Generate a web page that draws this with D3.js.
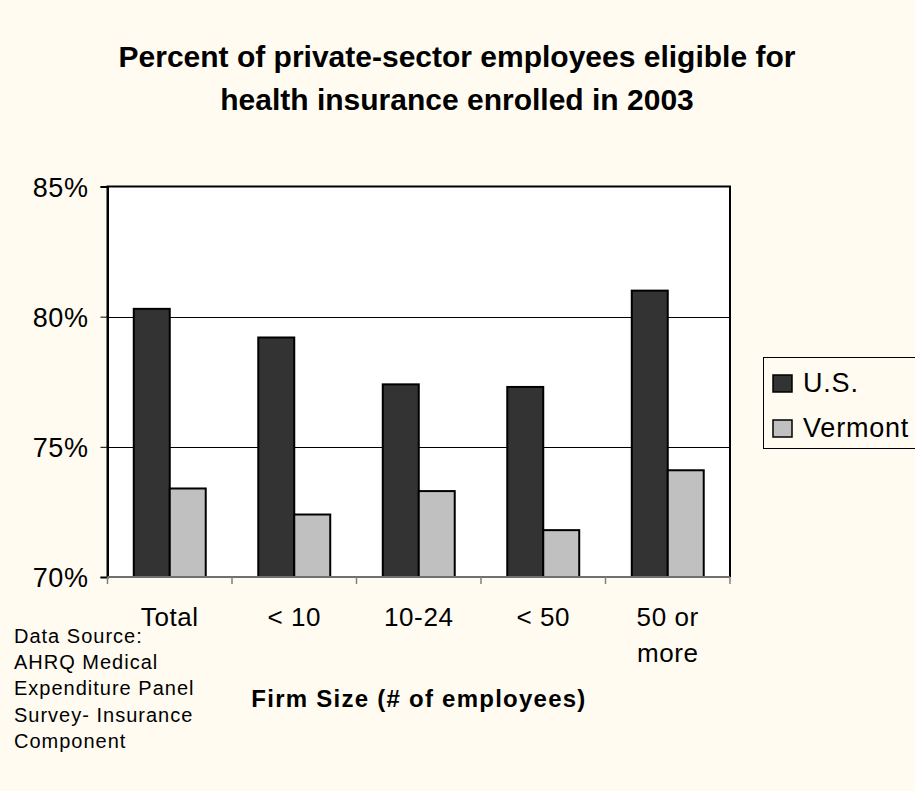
<!DOCTYPE html>
<html>
<head>
<meta charset="utf-8">
<script src="https://cdn.jsdelivr.net/npm/d3@7"></script>
<style>
  html, body { margin: 0; padding: 0; background: #fffbf0; }
  svg { display: block; font-family: "Liberation Sans", Arial, sans-serif; }
</style>
</head>
<body>
<svg id="chart"></svg>
<script>
// Data.
const categories = ['Total', '< 10', '10-24', '< 50', '50 or more'];
const categoryLines = [['Total'], ['< 10'], ['10-24'], ['< 50'], ['50 or', 'more']];
const seriesNames = ['U.S.', 'Vermont'];
const usValues = [80.3, 79.2, 77.4, 77.3, 81.0];
const vermontValues = [73.4, 72.4, 73.3, 71.8, 74.1];
const yTicks = [70, 75, 80, 85];
const titleLines = ['Percent of private-sector employees eligible for', 'health insurance enrolled in 2003'];
const sourceLines = ['Data Source:', 'AHRQ Medical', 'Expenditure Panel', 'Survey- Insurance', 'Component'];

const width = 915;
const height = 791;
const plot = { left: 107.5, right: 730, top: 186.5, bottom: 577 };
const colors = { 'U.S.': '#333333', 'Vermont': '#c0c0c0' };

const rows = categories.map((c, i) => ({
  category: c,
  values: [
    { series: 'U.S.', value: usValues[i] },
    { series: 'Vermont', value: vermontValues[i] },
  ],
}));

const svg = d3.select('#chart')
  .attr('width', width)
  .attr('height', height)
  .attr('viewBox', `0 0 ${width} ${height}`);

svg.append('rect')
  .attr('width', width)
  .attr('height', height)
  .attr('fill', '#fffbf0');

// Title
svg.append('g')
  .selectAll('text')
  .data(titleLines)
  .join('text')
  .attr('x', 457)
  .attr('y', (d, i) => 67 + i * 42.5)
  .attr('text-anchor', 'middle')
  .attr('font-size', 30)
  .attr('font-weight', 'bold')
  .attr('fill', '#000')
  .text((d) => d);

// Scales
const xScale = d3.scaleBand()
  .domain(categories)
  .range([plot.left, plot.right]);

const seriesScale = d3.scaleBand()
  .domain(seriesNames)
  .range([0, xScale.bandwidth()])
  .paddingOuter(0.73);

const yScale = d3.scaleLinear()
  .domain([70, 85])
  .range([plot.bottom, plot.top]);

// Plot area
svg.append('rect')
  .attr('x', plot.left)
  .attr('y', plot.top)
  .attr('width', plot.right - plot.left)
  .attr('height', plot.bottom - plot.top)
  .attr('fill', '#ffffff');

// Gridlines (inner ticks only)
svg.append('g')
  .selectAll('line')
  .data(yTicks.filter((t) => t > 70 && t < 85))
  .join('line')
  .attr('x1', plot.left)
  .attr('x2', plot.right)
  .attr('y1', (d) => Math.round(yScale(d)) + 0.5)
  .attr('y2', (d) => Math.round(yScale(d)) + 0.5)
  .attr('stroke', '#000')
  .attr('stroke-width', 1);

// Bars
svg.append('g')
  .selectAll('g')
  .data(rows)
  .join('g')
  .attr('transform', (d) => `translate(${xScale(d.category)},0)`)
  .selectAll('rect')
  .data((d) => d.values)
  .join('rect')
  .attr('x', (d) => seriesScale(d.series))
  .attr('y', (d) => yScale(d.value))
  .attr('width', seriesScale.bandwidth())
  .attr('height', (d) => yScale(70) - yScale(d.value))
  .attr('fill', (d) => colors[d.series])
  .attr('stroke', '#000')
  .attr('stroke-width', 2);

// Plot frame: top, right and left in black
svg.append('path')
  .attr('d', `M${plot.left},${plot.bottom} V${plot.top} H${plot.right} V${plot.bottom}`)
  .attr('fill', 'none')
  .attr('stroke', '#000')
  .attr('stroke-width', 2);

// Y axis
const yAxis = d3.axisLeft(yScale)
  .tickValues(yTicks)
  .tickSize(7)
  .tickPadding(12)
  .tickFormat((d) => `${d}%`);

const yAxisG = svg.append('g')
  .attr('transform', `translate(${plot.left},0)`)
  .call(yAxis);
yAxisG.select('.domain').attr('stroke', '#000').attr('stroke-width', 2);
yAxisG.selectAll('.tick line').attr('stroke', '#000');
yAxisG.selectAll('.tick text')
  .attr('font-size', 27)
  .attr('font-family', '"Liberation Sans", Arial, sans-serif')
  .attr('letter-spacing', 0.6)
  .attr('fill', '#000')
  .attr('dy', '0.36em');

// X axis: grey baseline with ticks at the category boundaries
const xAxisG = svg.append('g');
xAxisG.append('line')
  .attr('x1', plot.left)
  .attr('x2', plot.right)
  .attr('y1', plot.bottom)
  .attr('y2', plot.bottom)
  .attr('stroke', '#707070')
  .attr('stroke-width', 2);

const boundaries = categories.map((c) => xScale(c)).concat([xScale.range()[1]]);
xAxisG.selectAll('line.tick')
  .data(boundaries)
  .join('line')
  .attr('class', 'tick')
  .attr('x1', (d) => d)
  .attr('x2', (d) => d)
  .attr('y1', plot.bottom)
  .attr('y2', plot.bottom + 7)
  .attr('stroke', '#808080')
  .attr('stroke-width', 1.5);

xAxisG.selectAll('text')
  .data(categories)
  .join('text')
  .attr('x', (d) => xScale(d) + xScale.bandwidth() / 2)
  .attr('y', 626)
  .attr('text-anchor', 'middle')
  .attr('font-size', 26)
  .attr('letter-spacing', 0.6)
  .attr('fill', '#000')
  .each(function (d, i) {
    d3.select(this)
      .selectAll('tspan')
      .data(categoryLines[i])
      .join('tspan')
      .attr('x', xScale(d) + xScale.bandwidth() / 2)
      .attr('dy', (l, j) => (j === 0 ? 0 : 36))
      .text((l) => l);
  });

// X axis title
svg.append('text')
  .attr('x', 419)
  .attr('y', 707)
  .attr('text-anchor', 'middle')
  .attr('font-size', 24)
  .attr('font-weight', 'bold')
  .attr('letter-spacing', 1.25)
  .attr('fill', '#000')
  .text('Firm Size (# of employees)');

// Data source note
svg.append('g')
  .selectAll('text')
  .data(sourceLines)
  .join('text')
  .attr('x', 14)
  .attr('y', (d, i) => 643 + i * 26.2)
  .attr('font-size', 20)
  .attr('letter-spacing', 1)
  .attr('fill', '#000')
  .text((d) => d);

// Legend
const legend = svg.append('g');
legend.append('rect')
  .attr('x', 763.5)
  .attr('y', 357.5)
  .attr('width', 170)
  .attr('height', 91)
  .attr('fill', '#fffbf0')
  .attr('stroke', '#000')
  .attr('stroke-width', 1);

const legendItems = legend.selectAll('g')
  .data(seriesNames)
  .join('g')
  .attr('transform', (d, i) => `translate(773,${375 + i * 45})`);

legendItems.append('rect')
  .attr('width', 19)
  .attr('height', 17)
  .attr('fill', (d) => colors[d])
  .attr('stroke', '#000')
  .attr('stroke-width', 1.5);

legendItems.append('text')
  .attr('x', 30)
  .attr('y', 17)
  .attr('font-size', 27)
  .attr('letter-spacing', 0.8)
  .attr('fill', '#000')
  .text((d) => d);
</script>
</body>
</html>
